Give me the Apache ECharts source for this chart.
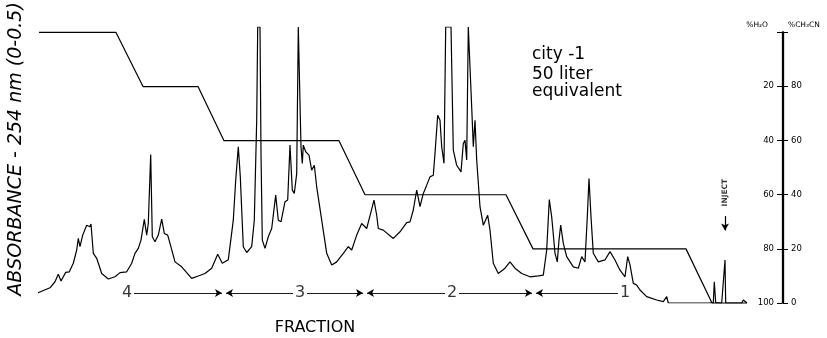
<!DOCTYPE html>
<html>
<head>
<meta charset="utf-8">
<script src="https://cdn.jsdelivr.net/npm/echarts@6/dist/echarts.min.js"></script>
<style>
html,body{margin:0;padding:0;background:#fff;}
#chart{width:827px;height:338px;}
</style>
</head>
<body>
<div id="chart"></div>
<script>
// Chromatogram: elution position (arbitrary units, left = late) and absorbance (% of 0-0.5 AU full scale)
const retention = [38,50,55,58.3,61,65.7,69.3,73.3,76.7,78.3,80,82.7,86.7,88.3,90,91,93.3,96.7,101.7,108.3,115,120,126.7,131.7,135,138.3,141,144.3,146.7,148.3,150.7,152.3,155,158.3,161.7,164.3,167.7,170,175,181.7,191.7,198.3,205,211.7,217.7,222.3,228.3,233.3,235.7,238.3,240.3,243.3,246.7,251.7,254.3,256.7,257.7,260,261,262.3,265,268.3,271.7,275.7,278.3,281,285,287.7,290,292.3,294.3,296.7,298.3,300,301,302.3,303.3,305.7,309,311.7,314.3,316.7,321.7,326.7,331.7,336.7,343.3,348.3,351.7,356.7,361.7,366.7,371,374,376.7,378.3,383.3,393.3,400,406.7,410,413.3,416.7,420,423.3,426.7,430,433.3,435,437.7,440,441.7,444,445.7,451,453.3,456.7,461,463.3,465,466.7,468.3,470,471.7,473.3,475,476.7,480,483.3,487.7,490,493.3,498.3,505,510,515,521.7,530,538.3,543.3,546.7,549.3,551.7,555,557.3,559,560.7,563.3,566.7,573.3,578.3,581.7,585,587.3,589,591,593.3,598.3,605,610,615,620,625,627.7,630,633.3,636.7,640,646.7,656.7,663.3,666.7,668.3,685,708.3,713.3,714.3,715.7,721.7,725,725.7,741.7,743.3,747];
const absorbance = [3.7,5.5,7.7,10.4,8.0,11.1,11.3,14.4,19.2,23.4,20.4,24.6,28.2,28.6,27.6,28.6,18.0,16.2,10.7,8.7,9.5,11.0,11.3,14.4,18.0,19.8,22.8,30.3,24.6,28.8,53.8,24.0,22.2,24.6,30.4,25.2,24.6,21.6,14.9,13.1,8.9,9.8,10.7,12.6,17.7,14.4,15.7,30.0,44.5,56.6,45.7,20.4,18.3,20.4,30.0,66.2,100,100,54.2,22.8,19.8,24.0,27.0,39.1,30.0,29.4,36.7,37.3,57.2,40.9,39.7,46.9,100,100,56.6,50.6,57.2,54.8,53.6,48.1,49.9,42.1,30.0,18.0,13.8,14.9,18.0,20.4,19.2,24.6,28.8,27.0,33.0,37.3,31.8,27.0,26.4,23.4,25.8,29.1,29.4,33.7,40.9,34.9,39.7,42.7,45.7,46.3,54.2,68.0,66.2,56.6,50.6,100,100,55.4,49.9,47.5,57.8,59.0,51.8,100,100,71.0,56.6,66.2,51.8,34.9,28.2,31.8,26.4,14.4,10.7,12.6,14.9,12.6,10.7,9.5,9.8,10.1,19.2,37.5,31.2,18.0,14.9,22.8,28.2,21.6,16.8,13.1,12.6,16.8,14.9,31.2,45.1,31.2,18.0,14.9,15.6,18.6,15.6,11.9,9.5,16.8,13.8,7.1,6.5,4.7,2.3,1.1,0.5,2.3,0,0,0,0.1,7.7,0.1,0,15.6,0,0,1.1,0];

// Solvent gradient (% CH3CN)
const gradientX = [39,116,143,198,224,339,365,506,533,686,712,747];
const gradientCH3CN = [100,100,80,80,60,60,40,40,20,20,0,0];

// Right-hand scale
const scaleTicks = [0,20,40,60,80,100];
const h2oTickLabels = ['100','80','60','40','20',''];
const ch3cnTickLabels = ['0','20','40','60','80',''];

// Fractions
const fractionNames = ['4','3','2','1'];
const fractionFrom = [127,224,365,534];
const fractionTo = [224,365,534,625];
const fractionLabelAt = [127,300,452,625];
const fractionLevel = 3.6;

// Injection mark
const injectAt = 725;
const injectLabelLevel = 40;
const injectArrowFrom = 31.5;
const injectArrowTo = 26.3;

const FONT = '"DejaVu Sans", "Liberation Sans", sans-serif';

const chart = echarts.init(document.getElementById('chart'));

const fracLines = [];
fractionNames.forEach((n, i) => {
  const lx = fractionLabelAt[i];
  if (lx - fractionFrom[i] > 8) {
    fracLines.push([{coord: [fractionFrom[i] + 2, fractionLevel], symbol: 'arrow'},
                    {coord: [lx - 7, fractionLevel], symbol: 'none'}]);
  }
  if (fractionTo[i] - lx > 8) {
    fracLines.push([{coord: [lx + 7, fractionLevel], symbol: 'none'},
                    {coord: [fractionTo[i] - 2, fractionLevel], symbol: 'arrow'}]);
  }
});

const option = {
  animation: false,
  backgroundColor: '#fff',
  grid: [
    {left: 38, right: 79, top: 27, bottom: 35, outerBoundsMode: 'none'},
    {left: 782, right: 44, top: 32, bottom: 35, outerBoundsMode: 'none'}
  ],
  xAxis: [
    {gridIndex: 0, type: 'value', min: 38, max: 748, show: false},
    {gridIndex: 1, type: 'value', min: 0, max: 1, show: false}
  ],
  yAxis: [
    {gridIndex: 0, type: 'value', min: 0, max: 100, show: false},
    {gridIndex: 0, type: 'value', min: 0, max: 102, show: false},
    {
      gridIndex: 1, type: 'value', position: 'left', min: 0, max: 100, interval: 20,
      axisLine: {show: true, lineStyle: {color: '#000', width: 1.3}},
      axisTick: {show: true, inside: false, length: 5, lineStyle: {color: '#000', width: 1}},
      axisLabel: {inside: false, margin: 8, fontSize: 8.5, color: '#000', fontFamily: FONT,
        formatter: v => h2oTickLabels[scaleTicks.indexOf(v)]},
      splitLine: {show: false},
      name: '%H\u2082O', nameLocation: 'end', nameGap: 3,
      nameTextStyle: {align: 'right', fontSize: 7.5, color: '#000', fontFamily: FONT, padding: [0, 14, 0, 0]}
    },
    {
      gridIndex: 1, type: 'value', position: 'right', min: 0, max: 100, interval: 20,
      axisLine: {show: true, lineStyle: {color: '#000', width: 1.3}},
      axisTick: {show: true, inside: false, length: 5, lineStyle: {color: '#000', width: 1}},
      axisLabel: {inside: false, margin: 8, fontSize: 8.5, color: '#000', fontFamily: FONT,
        formatter: v => ch3cnTickLabels[scaleTicks.indexOf(v)]},
      splitLine: {show: false},
      name: '%CH\u2083CN', nameLocation: 'end', nameGap: 3,
      nameTextStyle: {align: 'left', fontSize: 7.5, color: '#000', fontFamily: FONT, padding: [0, 0, 0, 5]}
    }
  ],
  series: [
    {
      name: 'absorbance', type: 'line', xAxisIndex: 0, yAxisIndex: 0,
      data: retention.map((x, i) => [x, absorbance[i]]),
      showSymbol: false, symbol: 'none', clip: true,
      lineStyle: {color: '#000', width: 1.2}
    },
    {
      name: 'gradient', type: 'line', xAxisIndex: 0, yAxisIndex: 1,
      data: gradientX.map((x, i) => [x, gradientCH3CN[i]]),
      showSymbol: false, symbol: 'none', clip: false,
      lineStyle: {color: '#000', width: 1.2}
    },
    {
      name: 'fractions', type: 'scatter', xAxisIndex: 0, yAxisIndex: 0,
      data: fractionLabelAt.map(x => [x, fractionLevel]),
      symbolSize: 1, itemStyle: {color: 'rgba(0,0,0,0)'},
      label: {show: true, position: 'inside', color: '#000', fontSize: 16, fontFamily: FONT,
        formatter: p => fractionNames[p.dataIndex]},
      markLine: {
        silent: true, animation: false, symbolSize: [6, 7],
        lineStyle: {color: '#000', width: 0.9, type: 'solid'},
        label: {show: false},
        data: fracLines
      }
    },
    {
      name: 'inject', type: 'scatter', xAxisIndex: 0, yAxisIndex: 0,
      data: [[injectAt, injectLabelLevel]],
      symbolSize: 1, itemStyle: {color: 'rgba(0,0,0,0)'},
      label: {show: true, position: 'inside', rotate: 90, color: '#000', fontSize: 7.5,
        fontWeight: 'bold', fontFamily: FONT, formatter: 'INJECT'},
      markLine: {
        silent: true, animation: false, symbolSize: [6, 7],
        lineStyle: {color: '#000', width: 1.2, type: 'solid'},
        label: {show: false},
        data: [[{coord: [injectAt, injectArrowFrom], symbol: 'none'},
                {coord: [injectAt, injectArrowTo], symbol: 'arrow'}]]
      }
    }
  ],
  graphic: [
    {type: 'text', x: 16, y: 149, rotation: Math.PI / 2,
      style: {text: 'ABSORBANCE - 254 nm (0-0.5)', font: 'italic 19px "DejaVu Sans"', fill: '#000',
        align: 'center', verticalAlign: 'middle'}},
    {type: 'text', x: 315, y: 328,
      style: {text: 'FRACTION', font: '16px "DejaVu Sans"', fill: '#000', align: 'center', verticalAlign: 'middle'}},
    {type: 'text', x: 532, y: 55,
      style: {text: 'city -1', font: '17px "DejaVu Sans"', fill: '#000', align: 'left', verticalAlign: 'middle'}},
    {type: 'text', x: 532, y: 75,
      style: {text: '50 liter', font: '17px "DejaVu Sans"', fill: '#000', align: 'left', verticalAlign: 'middle'}},
    {type: 'text', x: 532, y: 92,
      style: {text: 'equivalent', font: '17px "DejaVu Sans"', fill: '#000', align: 'left', verticalAlign: 'middle'}}
  ]
};
chart.setOption(option);
</script>
</body>
</html>
